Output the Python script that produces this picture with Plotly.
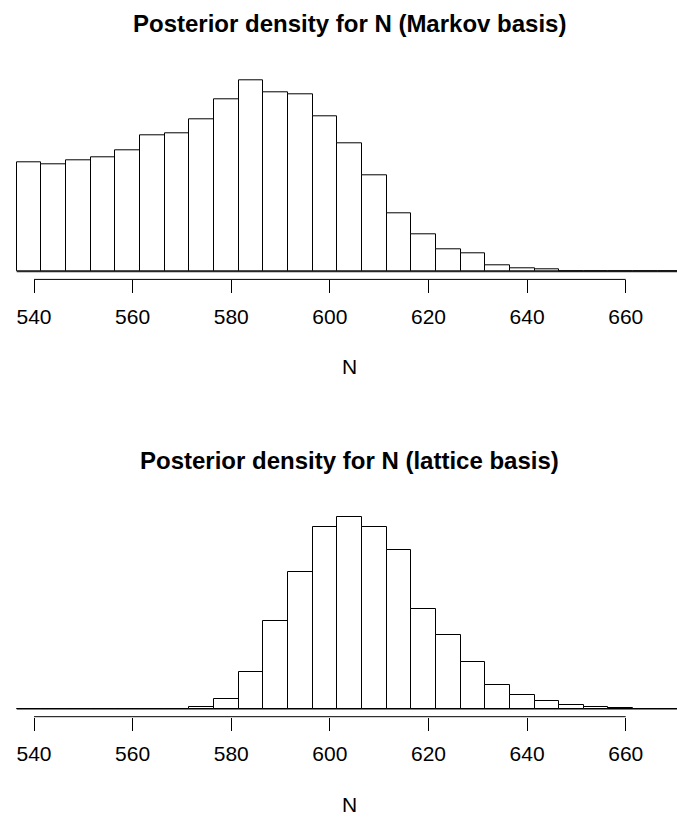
import plotly.graph_objects as go

# Histogram breaks (bin width 5)
break_start = 536.5
bin_width = 5
n_bins = 27

# Density per bin, Markov basis
markov_density = [0.00979, 0.00961, 0.00994, 0.01023, 0.01086, 0.01213, 0.01237,
                  0.01356, 0.01534, 0.01710, 0.01597, 0.01579, 0.01389, 0.01142,
                  0.00863, 0.00517, 0.00334, 0.00196, 0.00164, 0.00060, 0.00033,
                  0.00021, 0.00006, 0.0, 0.0, 0.0, 0.0]

# Density per bin, lattice basis
lattice_density = [0.0, 0.0, 0.0, 0.0, 0.0, 0.0, 0.00006, 0.00032, 0.00158,
                   0.00581, 0.01387, 0.02163, 0.02879, 0.03042, 0.02884, 0.02520,
                   0.01587, 0.01171, 0.00744, 0.00375, 0.00229, 0.00119, 0.00059,
                   0.00036, 0.00016, 0.00005, 0.00005]

tick_vals = [540, 560, 580, 600, 620, 640, 660]
tick_text = ["540", "560", "580", "600", "620", "640", "660"]

titles = ["Posterior density for N (Markov basis)",
          "Posterior density for N (lattice basis)"]
x_label = "N"

breaks = [break_start + i * bin_width for i in range(n_bins + 1)]
centers = [(breaks[i] + breaks[i + 1]) / 2 for i in range(n_bins)]

W, H = 677, 819
FONT = "Liberation Sans, Arial, Helvetica, sans-serif"

# pixel layout (top-left origin)
panels = [
    dict(top=72.3, bottom=279.4, title_y=23.0, xlab_y=366.7),
    dict(top=509.0, bottom=716.7, title_y=460.0, xlab_y=804.0),
]

fig = go.Figure()
series = [markov_density, lattice_density]

x_range = [533.1, 670.4]
mid = (breaks[0] + breaks[-1]) / 2

for k, (vals, p) in enumerate(zip(series, panels)):
    xa = "x" if k == 0 else "x2"
    ya = "y" if k == 0 else "y2"
    fig.add_trace(go.Bar(
        x=centers, y=vals, width=[bin_width] * n_bins,
        marker=dict(color="white", line=dict(color="black", width=1)),
        xaxis=xa, yaxis=ya, showlegend=False, hoverinfo="x+y",
    ))
    m = max(vals)
    dom = [1 - p["bottom"] / H, 1 - p["top"] / H]
    ax_suffix = "" if k == 0 else "2"
    fig.update_layout(**{
        "xaxis" + ax_suffix: dict(
            range=x_range, domain=[0, 1], anchor=ya,
            showgrid=False, zeroline=False, showline=False,
            tickmode="array", tickvals=tick_vals, ticktext=tick_text,
            ticks="outside", ticklen=13, tickwidth=1, tickcolor="black",
            ticklabelstandoff=5,
            tickfont=dict(family=FONT, size=21, color="black"),
            fixedrange=True,
        ),
        "yaxis" + ax_suffix: dict(
            range=[-0.04 * m, 1.04 * m], domain=dom, anchor=xa,
            visible=False, fixedrange=True,
        ),
    })
    # baseline under bars across all breaks
    fig.add_shape(type="line", xref=xa, yref=ya,
                  x0=breaks[0], x1=breaks[-1], y0=0, y1=0,
                  line=dict(color="black", width=1))
    # R-style axis line spanning first to last tick
    fig.add_shape(type="line", xref=xa, yref=ya + " domain",
                  x0=tick_vals[0], x1=tick_vals[-1], y0=0, y1=0,
                  line=dict(color="black", width=1))
    fig.add_annotation(text="<b>" + titles[k] + "</b>", xref=xa, yref="paper",
                       x=mid, y=1 - p["title_y"] / H, showarrow=False,
                       xanchor="center", yanchor="middle",
                       font=dict(family=FONT, size=24, color="black"))
    fig.add_annotation(text=x_label, xref=xa, yref="paper",
                       x=mid, y=1 - p["xlab_y"] / H, showarrow=False,
                       xanchor="center", yanchor="middle",
                       font=dict(family=FONT, size=21, color="black"))

fig.update_layout(
    width=W, height=H,
    margin=dict(l=0, r=0, t=0, b=0),
    paper_bgcolor="white", plot_bgcolor="white",
    bargap=0, barmode="overlay",
)

fig.write_html("out.html", config={"displayModeBar": False},
               post_script="document.body.style.margin='0';document.body.style.overflow='hidden';")
